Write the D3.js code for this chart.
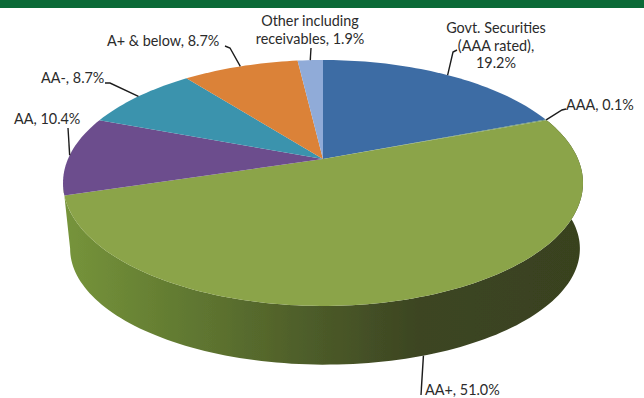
<!DOCTYPE html>
<html>
<head>
<meta charset="utf-8">
<script src="https://cdn.jsdelivr.net/npm/d3@7/dist/d3.min.js"></script>
<style>
html,body{margin:0;padding:0;background:#fff}
svg{display:block}
text{font-family:Lato,sans-serif;font-size:14.4px;fill:#2b2b2b}
</style>
</head>
<body>
<script>
// Portfolio split by credit rating, clockwise from twelve o'clock
const categories = ["Govt. Securities (AAA rated)", "AAA", "AA+", "AA", "AA-", "A+ & below", "Other including receivables"];
const shares = [19.2, 0.1, 51.0, 10.4, 8.7, 8.7, 1.9];
const topColors = ["#3d6ca4", "#5c8a6a", "#8ba449", "#6c4e8d", "#3a93ad", "#db8239", "#90abd8"];
const labelLines = [["Govt. Securities", "(AAA rated),", "19.2%"], ["AAA, 0.1%"], ["AA+, 51.0%"], ["AA, 10.4%"], ["AA-, 8.7%"], ["A+ & below, 8.7%"], ["Other including", "receivables, 1.9%"]];

const width = 644, height = 398;
const svg = d3.select("body").append("svg").attr("width", width).attr("height", height);

// Perspective disc: the far edge is squeezed, so the hub sits above the ellipse centre
const tilt = 0.195;
function project(theta, disc) {
  const x = Math.sin(theta), y = -Math.cos(theta), w = 1 - tilt * y;
  return [disc.cx + disc.a * x / w, disc.cy + disc.b * y / w];
}
const topDisc = {cx: 323, cy: 159, a: 255, b: 118.3};
const baseDisc = {cx: 325, cy: 226, a: 250, b: 111.6};

const pie = d3.pie().sort(null).value(d => d)(shares);
const line = d3.line();
const sweep = (start, end) => d3.range(0, 1.0001, 1 / Math.max(2, Math.ceil((end - start) * 40)))
  .map(t => start + t * (end - start));
const midAngle = d => (d.startAngle + d.endAngle) / 2;

const defs = svg.append("defs");
const grad = defs.append("linearGradient").attr("id", "wall")
  .attr("gradientUnits", "userSpaceOnUse").attr("x1", 65).attr("x2", 583).attr("y1", 0).attr("y2", 0);
[[0, "#76943b"], [0.2, "#647d32"], [0.45, "#4f5f2a"], [0.68, "#3c4522"], [1, "#39421f"]]
  .forEach(([o, c]) => grad.append("stop").attr("offset", o).attr("stop-color", c));
defs.append("filter").attr("id", "soft").append("feGaussianBlur").attr("stdDeviation", 0.6);

// Header band
svg.append("rect").attr("width", width).attr("height", 8).attr("fill", "#0b6a37");

const pieG = svg.append("g").attr("filter", "url(#soft)");

// Outer wall of the large slice, carried round to the left silhouette of the disc
const largest = pie[d3.greatestIndex(shares)];
const silhouette = 2 * Math.PI - Math.acos(-tilt);
const wallAngles = sweep(largest.startAngle, silhouette);
pieG.append("path")
  .attr("d", line(wallAngles.map(a => project(a, topDisc))
    .concat(wallAngles.map(a => project(a, baseDisc)).reverse())) + "Z")
  .attr("fill", "url(#wall)");

// Top face
pieG.append("g").selectAll("path").data(pie).join("path")
  .attr("d", d => line([[topDisc.cx, topDisc.cy]].concat(sweep(d.startAngle, d.endAngle).map(a => project(a, topDisc)))) + "Z")
  .attr("fill", (d, i) => topColors[i]);

// Leader lines run from the middle of each slice's rim to an elbow at its label
const elbows = [
  [[453, 52], [457, 50]],
  [[562, 110], [566, 109]],
  [[421, 395]],
  [[68, 128]],
  [[110, 83], [105, 83]],
  [[230, 48], [225, 46]],
  [[311, 48]]
];
const leaderDisc = [topDisc, topDisc, baseDisc, topDisc, topDisc, topDisc, topDisc];
svg.append("g").selectAll("path").data(pie).join("path")
  .attr("d", (d, i) => line([project(midAngle(d), leaderDisc[i])].concat(elbows[i])))
  .attr("fill", "none").attr("stroke", "#1c1c1c").attr("stroke-width", 1.4);

// Labels
const labelSpots = [
  {x: 496, y: 33, anchor: "middle"},
  {x: 566, y: 110, anchor: "start"},
  {x: 425, y: 395, anchor: "start"},
  {x: 14, y: 124, anchor: "start"},
  {x: 41, y: 83, anchor: "start"},
  {x: 107, y: 46, anchor: "start"},
  {x: 310, y: 26, anchor: "middle"}
];
const labels = svg.append("g").selectAll("text").data(labelLines).join("text")
  .attr("text-anchor", (d, i) => labelSpots[i].anchor)
  .attr("y", (d, i) => labelSpots[i].y);
labels.selectAll("tspan").data((d, i) => d.map(t => ({t, x: labelSpots[i].x}))).join("tspan")
  .attr("x", d => d.x).attr("dy", (d, i) => i ? 17.5 : 0).text(d => d.t);
</script>
</body>
</html>
